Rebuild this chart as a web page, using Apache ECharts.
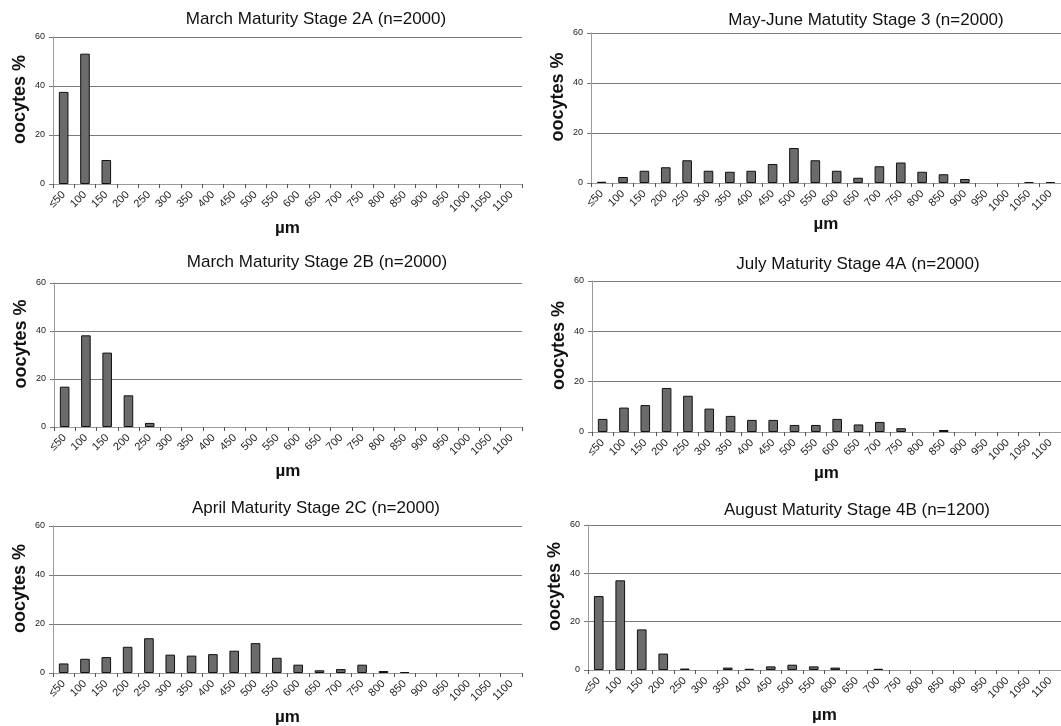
<!DOCTYPE html>
<html>
<head>
<meta charset="utf-8">
<script src="https://cdn.jsdelivr.net/npm/echarts@6/dist/echarts.min.js"></script>
<style>html,body{margin:0;padding:0;background:#fff}#c{width:1061px;height:726px}</style>
</head>
<body>
<div id="c"></div>
<script>
var categories = ['≤50','100','150','200','250','300','350','400','450','500','550','600','650','700','750','800','850','900','950','1000','1050','1100'];
var yTicks = [0, 20, 40, 60];

var titles = [
  'March Maturity Stage 2A (n=2000)',
  'May-June Matutity Stage 3 (n=2000)',
  'March Maturity Stage 2B (n=2000)',
  'July Maturity Stage 4A (n=2000)',
  'April Maturity Stage 2C (n=2000)',
  'August Maturity Stage 4B (n=1200)'
];

var stage2A = [37.6, 53.2, 9.8, 0, 0, 0, 0, 0, 0, 0, 0, 0, 0, 0, 0, 0, 0, 0, 0, 0, 0, 0];
var stage3  = [0.5, 2.4, 4.9, 6.3, 9.1, 4.9, 4.5, 4.9, 7.6, 14.0, 9.1, 4.9, 2.1, 6.7, 8.2, 4.5, 3.5, 1.6, 0, 0, 0.4, 0.4];
var stage2B = [16.8, 38.2, 31.0, 13.2, 1.7, 0, 0, 0, 0, 0, 0, 0, 0, 0, 0, 0, 0, 0, 0, 0, 0, 0];
var stage4A = [5.2, 9.7, 10.7, 17.5, 14.4, 9.3, 6.4, 4.8, 4.8, 2.8, 2.8, 5.2, 3.0, 4.0, 1.5, 0, 0.8, 0, 0, 0, 0, 0];
var stage2C = [3.9, 5.8, 6.5, 10.7, 14.2, 7.5, 7.1, 7.7, 9.1, 12.2, 6.2, 3.4, 1.1, 1.6, 3.4, 0.8, 0.4, 0, 0, 0, 0, 0];
var stage4B = [30.6, 37.1, 16.8, 6.8, 0.6, 0, 1.0, 0.5, 1.5, 2.2, 1.5, 1.0, 0, 0.5, 0, 0, 0, 0, 0, 0, 0, 0];

var seriesData = [stage2A, stage3, stage2B, stage4A, stage2C, stage4B];

// layout: [left, top, width, height, titleCenterX, titleCenterY, xNameGap]
var layout = [
  [53, 37, 469, 147, 316, 20, 36],
  [591, 33, 470, 150, 866, 21, 29],
  [54, 283, 468, 144, 317, 263, 36],
  [592, 281, 469, 151, 858, 265, 32],
  [53, 526, 469, 147, 316, 509, 36],
  [588, 525, 473, 145, 857, 511, 37]
];

var TITLE_FS = 17;
var grids = [], xAxes = [], yAxes = [], series = [], titleOpts = [];
layout.forEach(function (L, i) {
  grids.push({ left: L[0], top: L[1], width: L[2], height: L[3], containLabel: false, outerBoundsMode: 'none' });
  titleOpts.push({
    text: titles[i], left: L[4], top: L[5] - TITLE_FS / 2 - 1, textAlign: 'center', padding: 0,
    textStyle: { fontFamily: 'Liberation Sans', fontSize: TITLE_FS, fontWeight: 'normal', color: '#111' }
  });
  xAxes.push({
    type: 'category', gridIndex: i, data: categories, boundaryGap: true,
    name: 'µm', nameLocation: 'middle', nameGap: L[6],
    nameTextStyle: { fontFamily: 'Liberation Sans', fontSize: 17, fontWeight: 'bold', color: '#111' },
    axisLine: { show: true, lineStyle: { color: '#9a9a9a', width: 1 } },
    axisTick: { show: true, alignWithLabel: false, length: 4, lineStyle: { color: '#555' } },
    axisLabel: { rotate: 45, interval: 0, fontFamily: 'Liberation Sans', fontSize: 11, color: '#222', margin: 9 },
    splitLine: { show: false }
  });
  yAxes.push({
    type: 'value', gridIndex: i, min: yTicks[0], max: yTicks[yTicks.length - 1], interval: 20,
    name: 'oocytes %', nameLocation: 'middle', nameGap: 24, nameRotate: 90,
    nameTextStyle: { fontFamily: 'Liberation Sans', fontSize: 18, fontWeight: 'bold', color: '#111', padding: [0, 0, 0, 22] },
    axisLine: { show: true, lineStyle: { color: '#9a9a9a', width: 1 } },
    axisTick: { show: true, length: 4, lineStyle: { color: '#777' } },
    axisLabel: { fontFamily: 'Liberation Sans', fontSize: 9, color: '#222', margin: 8 },
    splitLine: { show: true, lineStyle: { color: '#7a7a7a', width: 1 } }
  });
  series.push({
    type: 'bar', xAxisIndex: i, yAxisIndex: i,
    data: seriesData[i].map(function (v) { return v === 0 ? '-' : v; }),
    barWidth: '45%',
    itemStyle: { color: '#6b6b6b', borderColor: '#111', borderWidth: 1 },
    silent: true, animation: false
  });
});

var chart = echarts.init(document.getElementById('c'), null, { renderer: 'canvas' });
chart.setOption({
  animation: false,
  backgroundColor: '#fff',
  title: titleOpts,
  grid: grids,
  xAxis: xAxes,
  yAxis: yAxes,
  series: series
});
</script>
</body>
</html>
